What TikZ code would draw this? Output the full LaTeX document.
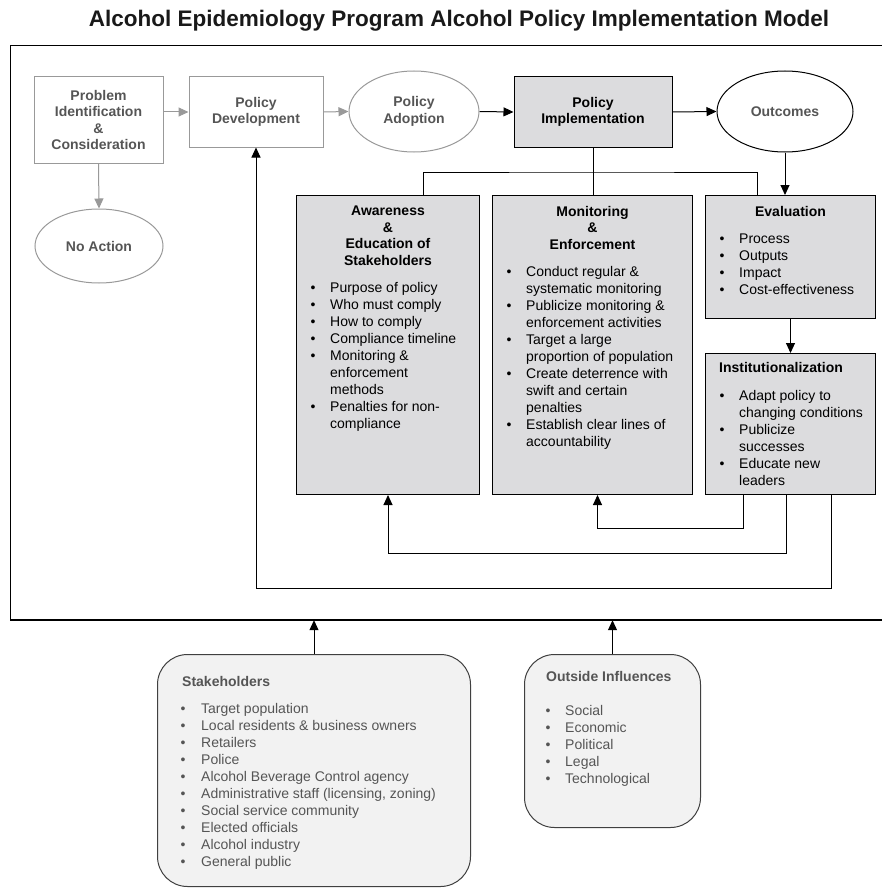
\documentclass[tikz,border=0pt]{standalone}
\usepackage{fontspec}
\setmainfont{Liberation Sans}
\usetikzlibrary{arrows.meta,shapes.geometric,positioning}

\definecolor{boxgray}{HTML}{DCDCDE}
\definecolor{softgray}{HTML}{F2F2F2}
\definecolor{linegray}{HTML}{999999}
\definecolor{textgray}{HTML}{555555}

\newcommand{\bul}{\textbullet &}

\tikzset{
    heading/.style={font=\fontsize{22.5}{26}\selectfont\bfseries, text=black!90, inner sep=0pt},
    frame/.style={draw, line width=1.2pt, anchor=north west, inner sep=0pt},
    stage/.style={draw=linegray, line width=1pt, text=textgray, align=center, inner sep=0pt,
        font=\fontsize{14}{16.5}\selectfont\bfseries},
    panel/.style={draw, fill=boxgray, line width=1pt, anchor=north west, inner sep=0pt},
    source/.style={draw=black!75, fill=softgray, line width=1pt, rounded corners=30pt,
        anchor=north west, inner sep=0pt},
    head/.style={align=center, inner sep=0pt, font=\fontsize{14}{16.5}\selectfont\bfseries},
    items/.style={inner sep=0pt, font=\fontsize{14}{17}\selectfont},
    link/.style={line width=1pt},
    tip/.style={link, -{Triangle[length=10pt,width=9pt]}},
    greytip/.style={tip, draw=linegray, fill=linegray}
}

\begin{document}
\begin{tikzpicture}[x=1pt,y=-1pt]
    \useasboundingbox (0,0) rectangle (881,888);
    \node[heading, anchor=base] (title) at (459,27)
        {Alcohol Epidemiology Program Alcohol Policy Implementation Model};
    \node[frame, minimum width=890pt, minimum height=574pt] (frame) at (10,45) {};
    \draw[line width=2.2pt] (frame.south west) -- (frame.south east);

    % policy stages
    \node[stage, minimum width=129pt, minimum height=86pt] (prob) at (98.5,120)
        {Problem\\Identification\\\&\\Consideration};
    \node[stage, minimum width=134pt, minimum height=70pt] (dev) at (256,112)
        {Policy\\Development};
    \node[stage, ellipse, minimum width=130pt, minimum height=81pt] (adopt) at (414,111.5)
        {Policy\\Adoption};
    \node[stage, draw=black, fill=boxgray, text=black, minimum width=158pt, minimum height=70pt]
        (impl) at (593,112) {Policy\\Implementation};
    \node[stage, ellipse, draw=black, minimum width=136pt, minimum height=81pt] (outc) at (785,111.5)
        {Outcomes};
    \node[stage, ellipse, minimum width=128pt, minimum height=74pt] (noact) at (99,246)
        {No Action};

    \draw[greytip] (prob.east |- dev) -- (dev.west);
    \draw[greytip] (dev.east) -- (adopt.west);
    \draw[greytip] (prob.south) -- (noact.north);
    \draw[tip] (adopt.east) -- (impl.west);
    \draw[tip] (impl.east) -- (outc.west);

    % implementation panels
    \node[panel, minimum width=183pt, minimum height=299pt] (aware) at (296,195) {};
    \node[head, below=11pt of aware.north] (awarehead) {Awareness\\\&\\Education of\\Stakeholders};
    \node[items, below right=85pt and 14.5pt of aware.north west] (awarelist) {%
        \begin{tabular}{@{}p{19.5pt}@{}l@{}}
        \bul Purpose of policy\\
        \bul Who must comply\\
        \bul How to comply\\
        \bul Compliance timeline\\
        \bul Monitoring \&\\
        & enforcement\\
        & methods\\
        \bul Penalties for non-\\
        & compliance
        \end{tabular}};

    \node[panel, minimum width=200pt, minimum height=299pt] (mon) at (492,195) {};
    \node[head, below=11pt of mon.north] (monhead) {Monitoring\\\&\\Enforcement};
    \node[items, below right=69pt and 14.5pt of mon.north west] (monlist) {%
        \begin{tabular}{@{}p{19.5pt}@{}l@{}}
        \bul Conduct regular \&\\
        & systematic monitoring\\
        \bul Publicize monitoring \&\\
        & enforcement activities\\
        \bul Target a large\\
        & proportion of population\\
        \bul Create deterrence with\\
        & swift and certain\\
        & penalties\\
        \bul Establish clear lines of\\
        & accountability
        \end{tabular}};

    \node[panel, minimum width=170pt, minimum height=123pt] (eval) at (705,195) {};
    \node[head, below=11pt of eval.north] (evalhead) {Evaluation};
    \node[items, below right=36pt and 14.5pt of eval.north west] (evallist) {%
        \begin{tabular}{@{}p{19.5pt}@{}l@{}}
        \bul Process\\
        \bul Outputs\\
        \bul Impact\\
        \bul Cost-effectiveness
        \end{tabular}};

    \node[panel, minimum width=170pt, minimum height=141pt] (inst) at (705,353) {};
    \node[head, below right=9pt and 14pt of inst.north west] (insthead) {Institutionalization};
    \node[items, below right=35pt and 14.5pt of inst.north west] (instlist) {%
        \begin{tabular}{@{}p{19.5pt}@{}l@{}}
        \bul Adapt policy to\\
        & changing conditions\\
        \bul Publicize\\
        & successes\\
        \bul Educate new\\
        & leaders
        \end{tabular}};

    \coordinate (bus) at (593,172);
    \draw[link] (impl.south) -- (impl.south |- mon.north);
    \draw[link] ([xshift=35.5pt]aware.north) |- (bus) -| ([xshift=-33pt]eval.north);
    \draw[tip] (outc.south) -- (outc.south |- eval.north);
    \draw[tip] (eval.south) -- (inst.north);

    % feedback loops
    \draw[tip] ([xshift=-47pt]inst.south) -- ++(0,33) -| ([xshift=5pt]mon.south);
    \draw[tip] ([xshift=-4pt]inst.south) -- ++(0,58) -| (aware.south);
    \draw[tip] ([xshift=41pt]inst.south) -- ++(0,93) -| (dev.south);

    % outside the model
    \node[source, minimum width=313pt, minimum height=232pt] (stake) at (157,654) {};
    \node[head, text=textgray, below right=22pt and 25pt of stake.north west] (stakehead) {Stakeholders};
    \node[items, text=textgray, below right=47pt and 23.5pt of stake.north west] (stakelist) {%
        \begin{tabular}{@{}p{20.5pt}@{}l@{}}
        \bul Target population\\
        \bul Local residents \& business owners\\
        \bul Retailers\\
        \bul Police\\
        \bul Alcohol Beverage Control agency\\
        \bul Administrative staff (licensing, zoning)\\
        \bul Social service community\\
        \bul Elected officials\\
        \bul Alcohol industry\\
        \bul General public
        \end{tabular}};

    \node[source, minimum width=176pt, minimum height=173pt] (outs) at (524,654) {};
    \node[head, text=textgray, below right=17pt and 22pt of outs.north west] (outshead) {Outside Influences};
    \node[items, text=textgray, below right=49pt and 21.5pt of outs.north west] (outslist) {%
        \begin{tabular}{@{}p{19.5pt}@{}l@{}}
        \bul Social\\
        \bul Economic\\
        \bul Political\\
        \bul Legal\\
        \bul Technological
        \end{tabular}};

    \draw[tip] (stake.north) -- (stake.north |- frame.south);
    \draw[tip] (outs.north) -- (outs.north |- frame.south);
\end{tikzpicture}
\end{document}
